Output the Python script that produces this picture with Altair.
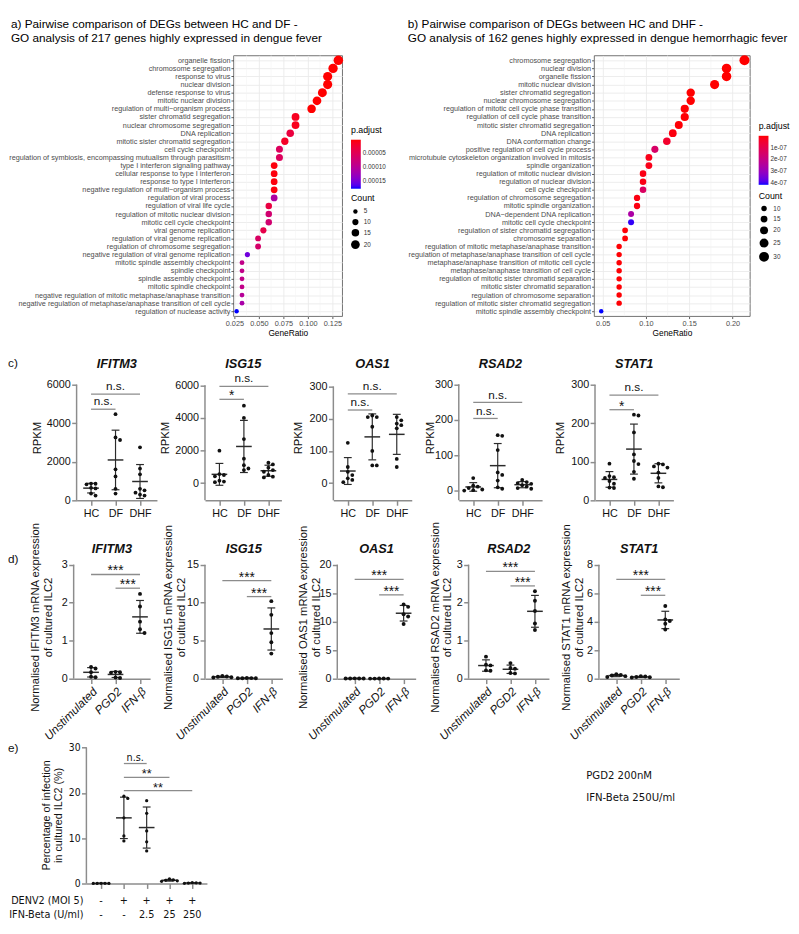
import altair as alt
import pandas as pd

FONT = "Liberation Sans"
NARROW = "Liberation Sans Narrow, DejaVu Sans Condensed, Liberation Sans"
AX = "#8c8c8c"
INK = "#111111"
BAR = "#2b2b2b"

# ---------------- a) GO dot plot, HC vs DF ----------------
a_terms = [
    "organelle fission", "chromosome segregation", "response to virus", "nuclear division",
    "defense response to virus", "mitotic nuclear division",
    "regulation of multi\u2212organism process", "sister chromatid segregation",
    "nuclear chromosome segregation", "DNA replication", "mitotic sister chromatid segregation",
    "cell cycle checkpoint", "regulation of symbiosis, encompassing mutualism through parasitism",
    "type I interferon signaling pathway", "cellular response to type I interferon",
    "response to type I interferon", "negative regulation of multi\u2212organism process",
    "regulation of viral process", "regulation of viral life cycle",
    "regulation of mitotic nuclear division", "mitotic cell cycle checkpoint",
    "viral genome replication", "regulation of viral genome replication",
    "regulation of chromosome segregation", "negative regulation of viral genome replication",
    "mitotic spindle assembly checkpoint", "spindle checkpoint", "spindle assembly checkpoint",
    "mitotic spindle checkpoint", "negative regulation of mitotic metaphase/anaphase transition",
    "negative regulation of metaphase/anaphase transition of cell cycle",
    "regulation of nuclease activity"]
a_count = [24, 23, 22, 22, 21, 20, 19, 16, 16, 15, 14, 13, 13, 12, 12, 12, 12, 12, 11, 11, 11,
           10, 9, 9, 7, 6, 6, 6, 6, 6, 6, 5]
a_ratio = [0.1311, 0.1257, 0.1202, 0.1202, 0.1148, 0.1093, 0.1038, 0.0874, 0.0874, 0.0820,
           0.0765, 0.0710, 0.0710, 0.0656, 0.0656, 0.0656, 0.0656, 0.0656, 0.0601, 0.0601,
           0.0601, 0.0546, 0.0492, 0.0492, 0.0383, 0.0328, 0.0328, 0.0328, 0.0328, 0.0328,
           0.0328, 0.0273]
a_padj = [2e-9, 5e-9, 1e-10, 3e-9, 1e-9, 1e-8, 8e-9, 1.2e-5, 1.0e-5, 3.2e-5, 1.6e-5, 5.5e-5,
          5.5e-5, 4e-6, 4e-6, 4e-6, 4e-6, 1.1e-4, 3.5e-5, 7e-5, 7e-5, 4e-5, 6e-5, 6.5e-5,
          1.55e-4, 9e-5, 9e-5, 9e-5, 9e-5, 1.02e-4, 1.15e-4, 1.8e-4]
a_head = ["a) Pairwise comparison of DEGs between HC and DF -",
          "GO analysis of 217 genes highly expressed in dengue fever"]

# ---------------- b) GO dot plot, HC vs DHF ----------------
b_terms = [
    "chromosome segregation", "nuclear division", "organelle fission", "mitotic nuclear division",
    "sister chromatid segregation", "nuclear chromosome segregation",
    "regulation of mitotic cell cycle phase transition", "regulation of cell cycle phase transition",
    "mitotic sister chromatid segregation", "DNA replication", "DNA conformation change",
    "positive regulation of cell cycle process",
    "microtubule cytoskeleton organization involved in mitosis", "spindle organization",
    "regulation of mitotic nuclear division", "regulation of nuclear division",
    "cell cycle checkpoint", "regulation of chromosome segregation", "mitotic spindle organization",
    "DNA\u2212dependent DNA replication", "mitotic cell cycle checkpoint",
    "regulation of sister chromatid segregation", "chromosome separation",
    "regulation of mitotic metaphase/anaphase transition",
    "regulation of metaphase/anaphase transition of cell cycle",
    "metaphase/anaphase transition of mitotic cell cycle",
    "metaphase/anaphase transition of cell cycle",
    "regulation of mitotic sister chromatid separation", "mitotic sister chromatid separation",
    "regulation of chromosome separation", "regulation of mitotic sister chromatid segregation",
    "mitotic spindle assembly checkpoint"]
b_count = [31, 28, 28, 26, 22, 22, 21, 21, 20, 19, 18, 16, 15, 15, 14, 14, 14, 13, 13, 12, 12,
           11, 11, 10, 10, 10, 10, 10, 10, 10, 10, 7]
b_ratio = [0.2138, 0.1931, 0.1931, 0.1793, 0.1517, 0.1517, 0.1448, 0.1448, 0.1379, 0.1310,
           0.1241, 0.1103, 0.1034, 0.1034, 0.0966, 0.0966, 0.0966, 0.0897, 0.0897, 0.0828,
           0.0828, 0.0759, 0.0759, 0.0690, 0.0690, 0.0690, 0.0690, 0.0690, 0.0690, 0.0690,
           0.0690, 0.0483]
b_padj = [1e-12, 3e-11, 3e-11, 2e-10, 5e-10, 6e-10, 2e-9, 3e-9, 4e-9, 1e-8, 4.5e-8, 1.45e-7,
          2e-8, 2e-8, 1.5e-8, 1.6e-8, 1.35e-7, 1.2e-8, 1.2e-8, 2.6e-7, 4.05e-7, 5e-9, 5e-9,
          3e-9, 3e-9, 3e-9, 3e-9, 3e-9, 3e-9, 3e-9, 3e-9, 4.16e-7]
b_head = ["b) Pairwise comparison of DEGs between HC and DHF -",
          "GO analysis of 162 genes highly expressed in dengue hemorrhagic fever"]

# ---------------- c) RPKM ----------------
c_groups = ["HC", "DF", "DHF"]
c_ifitm3 = [[870, 830, 860, 650, 620, 350, 250],
            [4470, 3260, 3130, 1610, 1240, 600, 350],
            [2750, 1650, 1350, 600, 520, 400, 300, 250]]
c_isg15 = [[1990, 560, 500, 420, 150, 100, 60],
           [4750, 4000, 2700, 1500, 1100, 900, 800],
           [1250, 1150, 950, 800, 700, 500, 400, 350]]
c_oas1 = [[125, 50, 35, 25, 15, 10, 3],
          [210, 205, 205, 175, 100, 55, 55],
          [205, 195, 185, 180, 170, 75, 50]]
c_rsad2 = [[36, 15, 12, 8, 4, 2, 1],
           [157, 155, 115, 52, 45, 29, 10, 6],
           [31, 25, 22, 20, 16, 12, 8, 6]]
c_stat1 = [[95, 63, 60, 58, 50, 43, 33, 32],
           [222, 220, 176, 119, 102, 94, 74, 56],
           [95, 93, 88, 85, 72, 58, 36, 34]]
c_sig_ifitm3 = [(0, 1, 4725, "n.s."), (0, 2, 5512, "n.s.")]
c_sig_isg15 = [(0, 1, 5140, "*"), (0, 2, 5940, "n.s.")]
c_sig_oas1 = [(0, 1, 227, "n.s."), (0, 2, 277, "n.s.")]
c_sig_rsad2 = [(0, 1, 204, "n.s."), (0, 2, 249, "n.s.")]
c_sig_stat1 = [(0, 1, 235, "*"), (0, 2, 273, "n.s.")]

# ---------------- d) qPCR ----------------
d_groups = ["Unstimulated", "PGD2", "IFN-\u03b2"]
d_ifitm3 = [[0.31, 0.27, 0.17, 0.05, 0.04], [0.18, 0.17, 0.16, 0.03, 0.02],
            [2.23, 1.90, 1.50, 1.30, 1.20]]
d_isg15 = [[0.35, 0.30, 0.25, 0.20, 0.15], [0.10, 0.08, 0.07, 0.06, 0.05],
           [10.2, 8.4, 6.0, 4.8, 3.3]]
d_oas1 = [[0.06, 0.05, 0.05, 0.04, 0.04], [0.03, 0.03, 0.02, 0.02, 0.02],
          [13.0, 12.6, 11.3, 10.9, 9.6]]
d_rsad2 = [[0.58, 0.37, 0.35, 0.22, 0.21], [0.41, 0.28, 0.26, 0.15, 0.14],
           [2.30, 2.05, 1.78, 1.45, 1.28]]
d_stat1 = [[0.32, 0.26, 0.22, 0.18, 0.12], [0.18, 0.15, 0.12, 0.10, 0.08],
           [5.1, 4.15, 4.05, 3.85, 3.45]]
d_sig_ifitm3 = [(0, 2, 2.74, "***"), (1, 2, 2.38, "***")]
d_sig_isg15 = [(0, 2, 12.9, "***"), (1, 2, 10.8, "***")]
d_sig_oas1 = [(0, 2, 17.4, "***"), (1, 2, 14.7, "***")]
d_sig_rsad2 = [(0, 2, 2.82, "***"), (1, 2, 2.44, "***")]
d_sig_stat1 = [(0, 2, 6.96, "***"), (1, 2, 5.85, "***")]

# ---------------- e) infection ----------------
e_denv = ["-", "+", "+", "+", "+"]
e_ifn = ["-", "-", "2.5", "25", "250"]
e_vals = [[0.05, 0.04, 0.03, 0.03, 0.02], [19.3, 18.8, 14.5, 10.5, 9.4],
          [18.3, 15.5, 11.6, 9.2, 7.2], [1.0, 0.8, 0.7, 0.6, 0.5], [0.2, 0.15, 0.1, 0.1, 0.05]]
e_sig = [(1, 2, 26.5, "n.s."), (1, 3, 23.45, "**"), (1, 4, 20.5, "**")]


def swarm(vals, ypx, xpx, sep):
    order = sorted(range(len(vals)), key=lambda k: -vals[k])
    cands = [0.0]
    for m in range(1, 10):
        cands += [m * sep, -m * sep]
    placed, out = [], [0.0] * len(vals)
    for k in order:
        y = vals[k] * ypx
        pick = cands[-1]
        for c in cands:
            if all((c - px) ** 2 + (y - py) ** 2 >= (0.93 * sep) ** 2 for px, py in placed):
                pick = c
                break
        placed.append((pick, y))
        out[k] = pick / xpx
    return out


def txt(t, x, y, size, align="center", style="normal", weight="normal", font=FONT,
        baseline="middle", color=INK):
    return alt.Chart(pd.DataFrame({"t": [t]})).mark_text(
        font=font, fontSize=size, fontStyle=style, fontWeight=weight, align=align,
        baseline=baseline, color=color).encode(text="t:N", x=alt.value(x), y=alt.value(y))


def spacer(x0, x1, y):
    return alt.Chart(pd.DataFrame({"a": [0]})).mark_rule(strokeOpacity=0).encode(
        x=alt.value(x0), x2=alt.value(x1), y=alt.value(y))


def dot_panel(groups, labels, sig, gene, ytitle, w, h, xdom, ydom, ytop, yticks, title_x,
              title_size, gene_y, font=FONT, label_size=11, tick_size=11, label_angle=0,
              label_style="normal", xlabels=True, dot=15, sep=4.6, cap=4, mw=8,
              ns_size=12, star_size=14, pad_right=0, extra=()):
    xpx = w / (xdom[1] - xdom[0])
    ypx = h / (ydom[1] - ydom[0])
    rows = []
    for gi, vals in enumerate(groups):
        for v, o in zip(vals, swarm(vals, ypx, xpx, sep)):
            rows.append({"g": gi, "v": v, "xx": gi + o})
    pts = pd.DataFrame(rows)
    xs = alt.Scale(domain=list(xdom), nice=False, zero=False)
    ys = alt.Scale(domain=list(ydom), nice=False, zero=False)
    lab_js = "[" + ",".join("'%s'" % s for s in labels) + "][datum.value]"
    xaxis = alt.Axis(values=list(range(len(groups))), labelExpr=lab_js, labels=xlabels,
                     title=None, grid=False, domainColor=AX, domainWidth=1.5, tickColor=AX,
                     tickWidth=1.5, tickSize=5, labelFont=font, labelFontSize=label_size,
                     labelColor=INK, labelAngle=label_angle, labelFontStyle=label_style,
                     labelPadding=2, labelFlush=False, labelOverlap=False)
    yaxis = alt.Axis(values=yticks, format="d", title=ytitle, titleX=title_x, titleY=h / 2,
                     titleFont=FONT, titleFontSize=title_size, titleFontWeight="normal",
                     titleColor=INK, titleLineHeight=title_size + 1.5, grid=False,
                     domain=False, tickColor=AX, tickWidth=1.5, tickSize=5, labelFont=font,
                     labelFontSize=tick_size, labelColor=INK, labelPadding=1.5,
                     labelFlush=False, labelOverlap=False)

    def X(f):
        return alt.X(f, type="quantitative", scale=xs, axis=xaxis)

    def Y(f):
        return alt.Y(f, type="quantitative", scale=ys, axis=yaxis)

    axline = alt.Chart(pd.DataFrame({"lo": [ydom[0]], "hi": [ytop]})).mark_rule(
        color=AX, strokeWidth=1.5).encode(x=alt.value(0), y=Y("lo"), y2="hi")
    sdf = pd.DataFrame(sig, columns=["g0", "g1", "y", "lab"])
    sb = alt.Chart(sdf).transform_calculate(gm="(datum.g0 + datum.g1) / 2")
    sig_rule = sb.mark_rule(color=AX, strokeWidth=1.3).encode(x=X("g0"), x2="g1", y=Y("y"))
    sig_ns = sb.transform_filter("datum.lab == 'n.s.'").mark_text(
        font=font, fontSize=ns_size, color=INK, baseline="bottom", dy=-1).encode(
        x=X("gm"), y=Y("y"), text="lab:N")
    sig_st = sb.transform_filter("datum.lab != 'n.s.'").mark_text(
        font=FONT, fontSize=star_size, color=INK, baseline="bottom", dy=4).encode(
        x=X("gm"), y=Y("y"), text="lab:N")
    st = alt.Chart(pts).transform_aggregate(
        m="mean(v)", sd="stdev(v)", groupby=["g"]).transform_calculate(
        lo="datum.m - datum.sd", hi="datum.m + datum.sd")
    err = st.mark_rule(color=BAR, strokeWidth=1.2).encode(x=X("g"), y=Y("lo"), y2="hi")
    cap_lo = st.mark_rule(color=BAR, strokeWidth=1.2, xOffset=-cap, x2Offset=cap).encode(
        x=X("g"), x2="g", y=Y("lo"))
    cap_hi = st.mark_rule(color=BAR, strokeWidth=1.2, xOffset=-cap, x2Offset=cap).encode(
        x=X("g"), x2="g", y=Y("hi"))
    mean = st.mark_rule(color=BAR, strokeWidth=1.5, xOffset=-mw, x2Offset=mw).encode(
        x=X("g"), x2="g", y=Y("m"))
    dots = alt.Chart(pts).mark_circle(size=dot, color=INK, opacity=1).encode(
        x=X("xx"), y=Y("v"))
    layers = [axline, sig_rule, sig_ns, sig_st, err, cap_lo, cap_hi, mean, dots]
    if gene:
        layers.append(txt(gene, w / 2, gene_y, 13, style="italic", weight="bold"))
    if pad_right > 0:
        layers.append(spacer(w, w + pad_right, h))
    layers += [f(X) for f in extra]
    return alt.layer(*layers).properties(width=w, height=h)


def go_panel(terms, ratio, count, padj, head, head_x, w, h, xdom, xticks, xfmt, cdom, cvals,
             cexpr, sdom, srange, svals, ly1, ly2):
    df = pd.DataFrame({"term": terms, "ratio": ratio, "count": count, "padj": padj})
    common = dict(grid=True, gridColor="#EBEBEB", gridWidth=0.9, domain=False,
                  tickColor="#333333", tickSize=2.5, tickWidth=0.8, labelFont=FONT,
                  labelColor="#4D4D4D")
    leg = dict(orient="none", legendX=w + 9, titleFont=FONT, titleFontSize=9,
               titleFontWeight="normal", titleColor="black", labelFont=FONT,
               labelFontSize=6.5, labelColor="#333333")
    xs = alt.Scale(domain=xdom, nice=False, zero=False)
    xaxis = alt.Axis(values=xticks, format=xfmt, title="GeneRatio", titleFont=FONT,
                     titleFontSize=8.5, titleFontWeight="normal", titleColor="black",
                     titlePadding=2, labelFontSize=7.5, labelPadding=1, labelFlush=False,
                     **common)
    # minor grid lines halfway between the major breaks (ggplot theme_bw)
    step = xticks[1] - xticks[0]
    minor = [t + step / 2 for t in [xticks[0] - step] + list(xticks)
             if xdom[0] <= t + step / 2 <= xdom[1]]
    grid = alt.Chart(pd.DataFrame({"m": minor})).mark_rule(
        color="#F3F3F3", strokeWidth=0.6).encode(x=alt.X("m:Q", scale=xs, axis=xaxis))
    dots = alt.Chart(df).mark_circle(opacity=1, color="black").encode(
        x=alt.X("ratio:Q", scale=xs, axis=xaxis),
        y=alt.Y("term:N", sort=None, scale=alt.Scale(type="point", padding=0.6),
                axis=alt.Axis(title=None, labelFontSize=7.4, labelPadding=1, labelLimit=400,
                              **common)),
        color=alt.Color("padj:Q",
                        scale=alt.Scale(domain=[cdom[1], cdom[0]],
                                        range=["#0000FF", "#FF0000"], interpolate="lab"),
                        legend=alt.Legend(title="p.adjust", legendY=ly1, values=cvals,
                                          labelExpr=cexpr, gradientLength=50,
                                          gradientThickness=10, direction="vertical",
                                          gradientStrokeWidth=0, **leg)),
        size=alt.Size("count:Q", scale=alt.Scale(domain=sdom, range=srange, zero=False),
                      legend=alt.Legend(title="Count", legendY=ly2, values=svals,
                                        symbolType="circle", symbolFillColor="black",
                                        symbolStrokeWidth=0, rowPadding=3.5, **leg)),
    )
    heads = [txt(head[0], head_x, -32, 12.0, align="left", color="black"),
             txt(head[1], head_x, -18, 12.0, align="left", color="black")]
    return alt.layer(grid, dots, *heads).properties(
        width=w, height=h, view=alt.ViewBackground(stroke="#4D4D4D", strokeWidth=0.8))


def dummy():
    return spacer(0, 1, 0).properties(width=1, height=1)


# ---------------- build panels ----------------
AB_H = 266
chart_a = go_panel(a_terms, a_ratio, a_count, a_padj, a_head, -227,
                   111, AB_H, [0.024, 0.135], [0.025, 0.05, 0.075, 0.1, 0.125], ".3f",
                   [0, 1.8e-4], [5e-5, 1e-4, 1.5e-4], "format(datum.value, '.5f')",
                   [5, 24], [20, 95], [5, 10, 15, 20], 72, 142)
chart_b = go_panel(b_terms, b_ratio, b_count, b_padj, b_head, -190,
                   159, AB_H, [0.040, 0.220], [0.05, 0.10, 0.15, 0.20], ".2f",
                   [0, 4.16e-7], [1e-7, 2e-7, 3e-7, 4e-7],
                   "replace(format(datum.value, '.0e'), 'e-', 'e-0')",
                   [7, 31], [20, 105], [10, 15, 20, 25, 30], 68, 139)

C_H = 128
c_specs = [
    # gene, data, brackets, y-domain, top tick, ticks, width, title x, right pad
    ("IFITM3", c_ifitm3, c_sig_ifitm3, [0, 6504], 6000, [0, 2000, 4000, 6000], 82, -35, 1.5),
    ("ISG15", c_isg15, c_sig_isg15, [-1054, 6637], 6000, [0, 2000, 4000, 6000], 78, -35, 10.5),
    ("OAS1", c_oas1, c_sig_oas1, [-53.5, 336], 300, [0, 100, 200, 300], 80, -30, 11.5),
    ("RSAD2", c_rsad2, c_sig_rsad2, [-26.6, 326.6], 300, [0, 100, 200, 300], 85, -24, 11.5),
    ("STAT1", c_stat1, c_sig_stat1, [0, 325.2], 300, [0, 100, 200, 300], 80, -30, 0),
]
c_charts = []
for i, (gene, vals, sig, ydom, ytop, ticks, w, tx, pr) in enumerate(c_specs):
    extra = []
    if i == 0:
        extra = [lambda X: txt("c)", -70, -12, 12, align="left")]
    c_charts.append(dot_panel(vals, c_groups, sig, gene, "RPKM", w, C_H,
                              [-0.59, (w - 14.7) / 25.0], ydom, ytop, ticks, tx, 11.5, -11,
                              pad_right=pr, extra=extra))

D_H = 126
d_specs = [
    ("IFITM3", d_ifitm3, d_sig_ifitm3, [0, 3.247], 3, [0, 1, 2, 3], 78, -34, 10.5),
    ("ISG15", d_isg15, d_sig_isg15, [0, 16.24], 15, [0, 5, 10, 15], 79, -32, 13.5),
    ("OAS1", d_oas1, d_sig_oas1, [0, 21.65], 20, [0, 5, 10, 15, 20], 80, -29, 11.5),
    ("RSAD2", d_rsad2, d_sig_rsad2, [0, 3.247], 3, [0, 1, 2, 3], 82, -29, 9.5),
    ("STAT1", d_stat1, d_sig_stat1, [0, 8.66], 8, [0, 2, 4, 6, 8], 82, -28, 0),
]
d_charts = []
for i, (gene, vals, sig, ydom, ytop, ticks, w, tx, pr) in enumerate(d_specs):
    extra = []
    if i == 0:
        extra = [lambda X: txt("d)", -67, 4, 12, align="left")]
    d_charts.append(dot_panel(vals, d_groups, sig, gene,
                              ["Normalised %s mRNA expression" % gene, "of cultured ILC2"],
                              w, D_H, [-0.71, (w - 17.7) / 25.0], ydom, ytop, ticks, tx, 11.5,
                              -6, label_size=12, label_angle=315, label_style="italic",
                              dot=16, pad_right=pr, extra=extra))

E_W, E_H = 123, 140
E_X = [-0.645, 4.645]
e_lab = pd.DataFrame({"g": list(range(5)), "r1": e_denv, "r2": e_ifn})


def e_row(field, yy):
    return lambda X: alt.Chart(e_lab).mark_text(font=NARROW, fontSize=11, color=INK).encode(
        x=X("g"), y=alt.value(yy), text=field + ":N")


e_extra = [
    e_row("r1", E_H + 18), e_row("r2", E_H + 32),
    lambda X: txt("DENV2 (MOI 5)", -3, E_H + 18, 11, align="right", font=NARROW),
    lambda X: txt("IFN-Beta (U/ml)", -3, E_H + 32, 11, align="right", font=NARROW),
    lambda X: txt("e)", -80, 2, 12, align="left"),
    lambda X: txt("PGD2 200nM", 510, 30, 11.5, align="left", font=NARROW),
    lambda X: txt("IFN-Beta 250U/ml", 510, 53, 11.5, align="left", font=NARROW),
]
chart_e = dot_panel(e_vals, ["", "", "", "", ""], e_sig, "",
                    ["Percentage of infection", "in cultured ILC2 (%)"], E_W, E_H, E_X,
                    [0, 30.3], 30, [0, 10, 20, 30], -36, 11, -10, font=NARROW,
                    label_size=10.5, tick_size=10.5, xlabels=False, dot=11, sep=4.0, cap=4,
                    mw=8, ns_size=11, star_size=13, extra=e_extra)

row1 = alt.hconcat(dummy(), alt.hconcat(chart_a, chart_b, spacing=20).resolve_scale(
    color="independent", size="independent").resolve_legend(
    color="independent", size="independent"), spacing=-1)
row2 = alt.hconcat(dummy(), alt.hconcat(*c_charts, spacing=1), spacing=-1)
row3 = alt.hconcat(dummy(), alt.hconcat(*d_charts, spacing=1), spacing=-1)
row4 = alt.hconcat(dummy(), chart_e, spacing=-1)

PAD = {"left": 0, "top": 0, "right": 0, "bottom": 0}
chart = alt.vconcat(
    row1,
    alt.vconcat(row2, alt.vconcat(row3, row4, spacing=0), spacing=3),
    spacing=20,
).properties(padding=PAD).configure(font=FONT, padding=PAD).configure_view(stroke=None)

chart.save("out.html", embed_options={"renderer": "svg", "actions": False})
